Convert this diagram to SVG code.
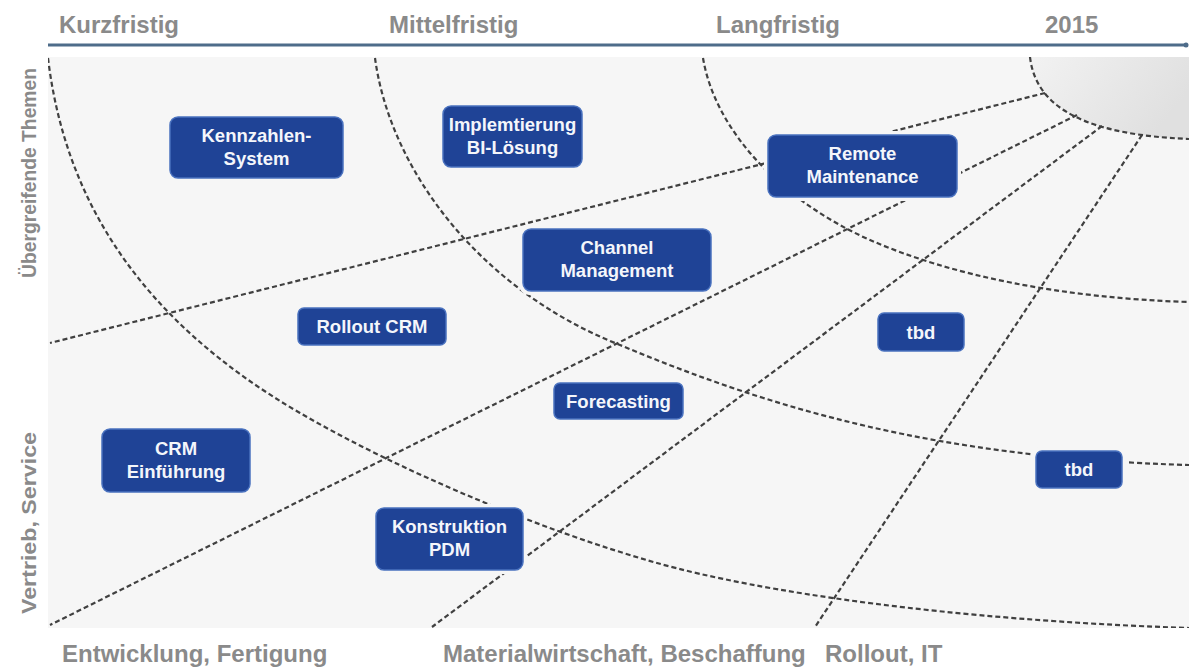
<svg xmlns="http://www.w3.org/2000/svg" width="1189" height="670" viewBox="0 0 1189 670">
  <style>
    .axis-label { font-family: "Liberation Sans", Arial, sans-serif; font-weight: bold; font-size: 24px; fill: #8a8a8a; }
    .side-label { font-family: "Liberation Sans", Arial, sans-serif; font-weight: bold; font-size: 21px; fill: #8a8a8a; }
    .guide { fill: none; stroke: #404040; stroke-width: 2.2; stroke-dasharray: 5 3; }
    .halo { fill: #f6f6f6; }
    .box { fill: #1f4396; stroke: #4a72bf; stroke-width: 1.5; }
    .box-text { font-family: "Liberation Sans", Arial, sans-serif; font-weight: bold; font-size: 18.5px; fill: #f4f6fb; text-anchor: middle; }
  </style>
  <defs>
    <clipPath id="plotClip">
      <rect x="48" y="57" width="1141" height="571"/>
    </clipPath>
    <linearGradient id="coreFill" x1="0" y1="0" x2="1" y2="0.4">
      <stop offset="0" stop-color="#f2f2f2"/>
      <stop offset="1" stop-color="#e0e0e0"/>
    </linearGradient>
  </defs>

  <!-- page and plot area -->
  <rect x="0" y="0" width="1189" height="670" fill="#ffffff"/>
  <rect x="48" y="57" width="1141" height="571" fill="#f6f6f6"/>

  <!-- time axis -->
  <line x1="48" y1="45" x2="1186" y2="45" stroke="#4e6c8a" stroke-width="3"/>
  <circle cx="1186" cy="45" r="2.5" fill="#4e6c8a"/>

  <!-- axis labels -->
  <text class="axis-label" x="59" y="33">Kurzfristig</text>
  <text class="axis-label" x="389" y="33">Mittelfristig</text>
  <text class="axis-label" x="716" y="33">Langfristig</text>
  <text class="axis-label" x="1045" y="33">2015</text>

  <text class="axis-label" x="62" y="662">Entwicklung, Fertigung</text>
  <text class="axis-label" x="443" y="662">Materialwirtschaft, Beschaffung</text>
  <text class="axis-label" x="825" y="662">Rollout, IT</text>

  <text class="side-label" transform="translate(36,173) rotate(-90)" text-anchor="middle" textLength="210" lengthAdjust="spacingAndGlyphs">Übergreifende Themen</text>
  <text class="side-label" transform="translate(36,523) rotate(-90)" text-anchor="middle" textLength="182" lengthAdjust="spacingAndGlyphs">Vertrieb, Service</text>

  <!-- radial grid: horizon arcs and sector rays -->
  <g id="connectors" clip-path="url(#plotClip)">
    <path d="M1030,57 C1036,110 1090,135 1189,139 L1189,57 Z" fill="url(#coreFill)"/>
    <path class="guide" d="M1030,57 C1036,110 1090,135 1189,139"/>
    <path class="guide" d="M703,58 C715,130 780,200 870,240 C950,275 1060,298 1189,302"/>
    <path class="guide" d="M375,58 C390,170 480,290 620,345 C775,410 940,458 1189,465"/>
    <path class="guide" d="M48,58 C65,200 140,320 300,413 C400,471 540,530 657,563 C760,592 950,620 1189,628"/>
    <line class="guide" x1="1045" y1="93" x2="50" y2="343"/>
    <line class="guide" x1="1077" y1="115" x2="50" y2="625"/>
    <line class="guide" x1="1102" y1="126" x2="432" y2="627"/>
    <line class="guide" x1="1142" y1="135" x2="815" y2="627"/>
  </g>

  <!-- topic boxes -->
  <g id="kennzahlen">
    <rect class="halo" x="166" y="113" width="181" height="69" rx="10"/>
    <rect class="box" x="170" y="117" width="173" height="61" rx="8"/>
    <text class="box-text" x="256.5" y="142">Kennzahlen-</text>
    <text class="box-text" x="256.5" y="165">System</text>
  </g>
  <g id="bi-loesung">
    <rect class="halo" x="439" y="102" width="147" height="69" rx="10"/>
    <rect class="box" x="443" y="106" width="139" height="61" rx="8"/>
    <text class="box-text" x="512.5" y="131">Implemtierung</text>
    <text class="box-text" x="512.5" y="154">BI-Lösung</text>
  </g>
  <g id="remote-maintenance">
    <rect class="halo" x="764" y="131" width="197" height="70" rx="10"/>
    <rect class="box" x="768" y="135" width="189" height="62" rx="8"/>
    <text class="box-text" x="862.5" y="160">Remote</text>
    <text class="box-text" x="862.5" y="183">Maintenance</text>
  </g>
  <g id="channel-management">
    <rect class="halo" x="519" y="225" width="196" height="70" rx="10"/>
    <rect class="box" x="523" y="229" width="188" height="62" rx="8"/>
    <text class="box-text" x="617" y="254">Channel</text>
    <text class="box-text" x="617" y="277">Management</text>
  </g>
  <g id="rollout-crm">
    <rect class="halo" x="294" y="304" width="156" height="45" rx="8"/>
    <rect class="box" x="298" y="308" width="148" height="37" rx="6"/>
    <text class="box-text" x="372" y="333">Rollout CRM</text>
  </g>
  <g id="tbd-1">
    <rect class="halo" x="874" y="309" width="94" height="46" rx="8"/>
    <rect class="box" x="878" y="313" width="86" height="38" rx="6"/>
    <text class="box-text" x="921" y="338.5">tbd</text>
  </g>
  <g id="forecasting">
    <rect class="halo" x="550" y="379" width="137" height="44" rx="8"/>
    <rect class="box" x="554" y="383" width="129" height="36" rx="6"/>
    <text class="box-text" x="618.5" y="407.5">Forecasting</text>
  </g>
  <g id="crm-einfuehrung">
    <rect class="halo" x="98" y="425" width="156" height="71" rx="10"/>
    <rect class="box" x="102" y="429" width="148" height="63" rx="8"/>
    <text class="box-text" x="176" y="455">CRM</text>
    <text class="box-text" x="176" y="478">Einführung</text>
  </g>
  <g id="tbd-2">
    <rect class="halo" x="1032" y="447" width="94" height="45" rx="8"/>
    <rect class="box" x="1036" y="451" width="86" height="37" rx="6"/>
    <text class="box-text" x="1079" y="476">tbd</text>
  </g>
  <g id="konstruktion-pdm">
    <rect class="halo" x="372" y="504" width="155" height="70" rx="10"/>
    <rect class="box" x="376" y="508" width="147" height="62" rx="8"/>
    <text class="box-text" x="449.5" y="533">Konstruktion</text>
    <text class="box-text" x="449.5" y="556">PDM</text>
  </g>
</svg>
